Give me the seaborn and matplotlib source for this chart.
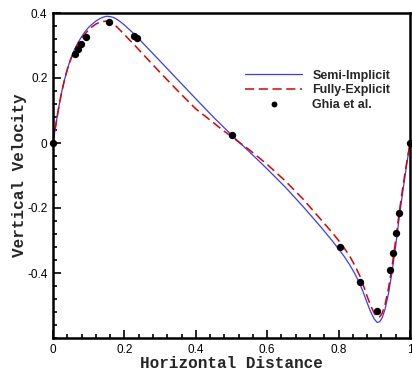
import numpy as np
import pandas as pd
import matplotlib
matplotlib.use("Agg")
import matplotlib.pyplot as plt
from matplotlib.ticker import FixedLocator, MultipleLocator, FixedFormatter
import seaborn as sns

# Semi-Implicit solution (blue solid)
semi_x = [0.0, 0.005, 0.01, 0.015, 0.02, 0.025, 0.03, 0.035, 0.04, 0.045, 0.05, 0.06,
          0.07, 0.08, 0.09, 0.10, 0.11, 0.12, 0.13, 0.14, 0.15, 0.16, 0.17, 0.18,
          0.19, 0.20, 0.21, 0.22, 0.235, 0.26, 0.30, 0.35, 0.40, 0.45, 0.50, 0.525,
          0.55, 0.60, 0.65, 0.70, 0.75, 0.78, 0.80, 0.815, 0.83, 0.845, 0.86, 0.87,
          0.88, 0.89, 0.90, 0.908, 0.915, 0.922, 0.93, 0.94, 0.95, 0.96, 0.97, 0.98,
          0.99, 1.0]
semi_y = [0.0, 0.035, 0.07, 0.103, 0.133, 0.160, 0.184, 0.206, 0.226, 0.244, 0.260, 0.287,
          0.309, 0.327, 0.343, 0.356, 0.366, 0.375, 0.382, 0.387, 0.390, 0.389, 0.386, 0.380,
          0.372, 0.363, 0.353, 0.343, 0.327, 0.298, 0.252, 0.194, 0.136, 0.079, 0.025, -0.001,
          -0.027, -0.080, -0.135, -0.195, -0.258, -0.298, -0.326, -0.348, -0.373, -0.401, -0.434, -0.462,
          -0.492, -0.520, -0.542, -0.552, -0.550, -0.538, -0.512, -0.462, -0.395, -0.315, -0.228, -0.148,
          -0.072, 0.0]

# Fully-Explicit solution (red dashed)
full_x = [0.0, 0.005, 0.01, 0.015, 0.02, 0.025, 0.03, 0.035, 0.04, 0.045, 0.05, 0.06,
          0.07, 0.08, 0.09, 0.10, 0.11, 0.12, 0.13, 0.14, 0.15, 0.16, 0.17, 0.18,
          0.19, 0.20, 0.21, 0.226, 0.26, 0.30, 0.35, 0.40, 0.45, 0.475, 0.50, 0.525,
          0.55, 0.60, 0.65, 0.70, 0.75, 0.78, 0.80, 0.815, 0.83, 0.845, 0.86, 0.87,
          0.88, 0.89, 0.90, 0.908, 0.915, 0.922, 0.93, 0.94, 0.95, 0.96, 0.97, 0.98,
          0.99, 1.0]
full_y = [0.0, 0.035, 0.07, 0.103, 0.133, 0.160, 0.184, 0.206, 0.226, 0.243, 0.258, 0.285,
          0.306, 0.322, 0.336, 0.348, 0.358, 0.366, 0.371, 0.374, 0.375, 0.372, 0.366, 0.356,
          0.345, 0.334, 0.322, 0.304, 0.264, 0.217, 0.160, 0.105, 0.062, 0.040, 0.020, -0.001,
          -0.021, -0.066, -0.116, -0.172, -0.235, -0.273, -0.300, -0.322, -0.346, -0.376, -0.410, -0.440,
          -0.472, -0.501, -0.524, -0.536, -0.535, -0.524, -0.498, -0.445, -0.378, -0.298, -0.212, -0.135,
          -0.065, 0.0]

# Ghia et al. reference data
ghia_x = [0.0, 0.0625, 0.0703, 0.0781, 0.0938, 0.1563, 0.2266, 0.2344, 0.5,
          0.8047, 0.8594, 0.9063, 0.9453, 0.9531, 0.9609, 0.9688, 1.0]
ghia_y = [0.0, 0.27485, 0.29012, 0.30353, 0.32627, 0.37095, 0.33075, 0.32235, 0.02526,
          -0.31966, -0.42665, -0.51550, -0.39188, -0.33714, -0.27669, -0.21388, 0.0]

xtick_vals = [0, 0.2, 0.4, 0.6, 0.8, 1.0]
xtick_labels = ["0", "0.2", "0.4", "0.6", "0.8", "1"]
ytick_vals = [-0.4, -0.2, 0, 0.2, 0.4]
ytick_labels = ["-0.4", "-0.2", "0", "0.2", "0.4"]

sns.set_style("ticks")
plt.rcParams['font.family'] = ['Liberation Sans', 'DejaVu Sans']

fig = plt.figure(figsize=(4.12, 3.75), dpi=100)
ax = fig.add_axes([53/412, 1-338/375, (410-53)/412, (338-13)/375])

df_semi = pd.DataFrame({"x": semi_x, "y": semi_y})
df_full = pd.DataFrame({"x": full_x, "y": full_y})
df_ghia = pd.DataFrame({"x": ghia_x, "y": ghia_y})

sns.lineplot(data=df_semi, x="x", y="y", ax=ax, color="#3a3aff", linewidth=0.9,
             sort=False, label="Semi-Implicit")
sns.lineplot(data=df_full, x="x", y="y", ax=ax, color="#e00000", linewidth=1.1,
             sort=False, label="Fully-Explicit")
ax.lines[-1].set_dashes([6, 3])
sns.scatterplot(data=df_ghia, x="x", y="y", ax=ax, color="black", s=28,
                edgecolor="black", linewidth=0, label="Ghia et al.", zorder=5, clip_on=False)

ax.set_xlim(0, 1)
ax.set_ylim(-0.6, 0.4)
ax.xaxis.set_major_locator(FixedLocator(xtick_vals))
ax.xaxis.set_major_formatter(FixedFormatter(xtick_labels))
ax.yaxis.set_major_locator(FixedLocator(ytick_vals))
ax.yaxis.set_major_formatter(FixedFormatter(ytick_labels))
ax.xaxis.set_minor_locator(MultipleLocator(0.04))
ax.yaxis.set_minor_locator(MultipleLocator(0.04))
ax.tick_params(which="both", direction="in", top=False, right=False, colors="black",
               labelsize=8.5, width=1.2)
ax.tick_params(which="major", length=6, pad=4)
ax.tick_params(which="minor", length=3)
for s in ax.spines.values():
    s.set_linewidth(1.8)
    s.set_color("black")

ax.set_xlabel("Horizontal Distance", family="Liberation Mono", fontweight="bold",
              fontsize=11.5, labelpad=0)
ax.set_ylabel("Vertical Velocity", family="Liberation Mono", fontweight="bold",
              fontsize=11.5, labelpad=0)

leg = ax.legend(loc="upper left", bbox_to_anchor=(0.52, 0.845), frameon=False,
                prop={"family": "Liberation Sans", "weight": "bold", "size": 9},
                handlelength=4.6, handletextpad=0.8, labelspacing=0.2, borderpad=0,
                markerscale=0.8)

fig.savefig("out.png", dpi=100)
